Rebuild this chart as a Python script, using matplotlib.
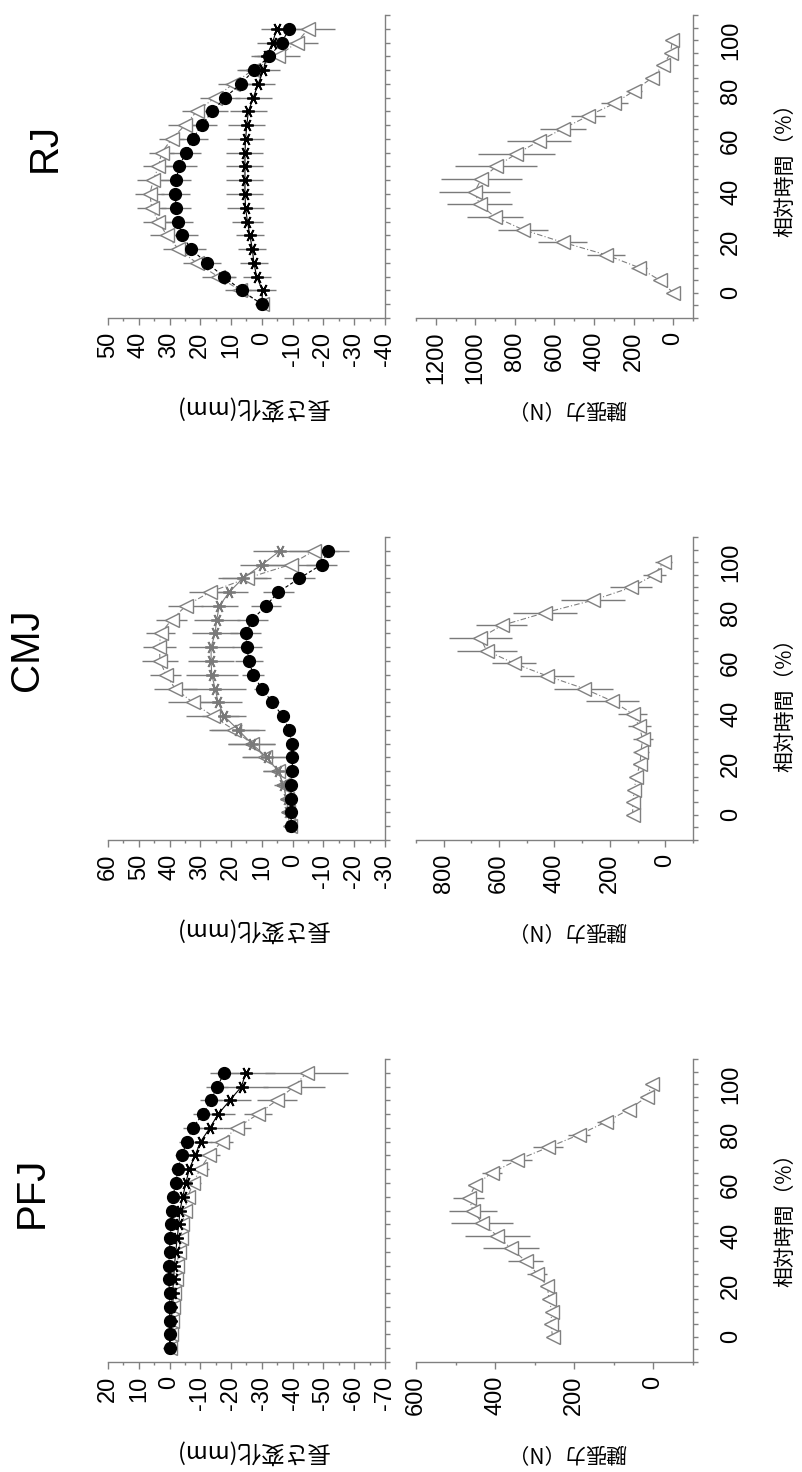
import numpy as np
import matplotlib
matplotlib.use("Agg")
import matplotlib.pyplot as plt
from matplotlib.ticker import MultipleLocator, NullFormatter

plt.rcParams["font.family"] = ["Liberation Sans", "Noto Sans CJK JP", "DejaVu Sans"]
plt.rcParams["axes.unicode_minus"] = False

# relative time of the movement (%)
time_pct = np.arange(0, 101, 5)

# ---------------- PFJ ----------------
pfj_circle = [0, 0, 0, 0, 0, 0.3, 0.3, 0, -0.2, -0.5, -0.7, -1.0, -2.1, -2.6, -4.0,
              -5.6, -7.5, -10.8, -13.5, -15.5, -17.8]
pfj_circle_sd = [0.4, 0.4, 0.4, 0.5, 0.5, 0.6, 0.7, 0.8, 1.0, 1.1, 1.3, 1.5, 1.8, 2.0,
                 2.3, 2.6, 3.0, 3.2, 3.5, 3.5, 4.7]
pfj_star = [-0.2, -0.3, -0.4, -0.6, -1.0, -1.3, -1.6, -2.0, -2.5, -3.0, -3.4, -4.3, -5.3,
            -6.4, -8.3, -10.1, -13.1, -15.8, -19.6, -23.4, -24.7]
pfj_star_sd = [0.3, 0.3, 0.4, 0.5, 0.6, 0.7, 0.8, 0.9, 1.0, 1.2, 1.4, 1.6, 2.0, 2.4, 3.0,
               3.6, 4.4, 5.5, 7.0, 8.5, 9.5]
pfj_tri = [-0.2, -0.4, -0.7, -1.0, -1.5, -2.0, -2.4, -3.0, -3.6, -4.2, -5.0, -5.9, -7.7,
           -9.9, -12.9, -16.9, -21.8, -28.8, -34.8, -40.5, -44.5]
pfj_tri_sd = [0.3, 0.4, 0.5, 0.6, 0.7, 0.8, 0.9, 1.1, 1.3, 1.5, 1.8, 2.2, 2.4, 3.0, 3.4,
              3.8, 4.5, 4.5, 6.5, 10.0, 13.5]
pfj_force = [255, 259, 257, 264, 268, 294, 323, 360, 395, 433, 456, 467, 450, 408, 344,
             266, 188, 121, 62, 17, 3]
pfj_force_sd = [10, 10, 10, 12, 15, 25, 44, 70, 82, 79, 61, 40, 18, 25, 38, 38, 28, 22,
                15, 10, 8]

# ---------------- CMJ ----------------
cmj_circle = [0.5, 0.5, 0.5, 0.5, 0.1, 0.1, 0.3, 1.1, 3.3, 6.6, 10.1, 12.8, 14.2, 14.9,
              15.2, 13.1, 8.7, 4.7, -2.2, -9.4, -11.4]
cmj_circle_sd = [0.8, 0.8, 0.8, 0.8, 0.8, 0.8, 0.8, 1.0, 1.5, 2.0, 2.5, 3.5, 4.5, 4.8,
                 5.0, 5.0, 5.0, 5.0, 5.0, 5.0, 7.0]
cmj_star = [1.0, 1.5, 2.0, 3.0, 4.7, 8.4, 13.3, 17.7, 22.3, 24.2, 25.2, 26.3, 26.5, 26.5,
            25.2, 24.7, 23.8, 20.6, 16.2, 9.9, 4.1]
cmj_star_sd = [0.5, 1.0, 2.0, 3.0, 4.9, 7.6, 7.6, 8.7, 7.0, 7.6, 10.0, 8.5, 7.6, 7.3, 7.5,
               7.5, 6.0, 6.0, 7.9, 7.3, 8.7]
cmj_tri = [1.0, 1.5, 2.0, 3.0, 4.7, 9.0, 13.3, 19.1, 26.0, 32.5, 38.2, 41.2, 43.1, 43.3,
           42.9, 39.3, 34.7, 26.9, 14.9, 0.7, -6.9]
cmj_tri_sd = [0.5, 0.8, 1.0, 2.0, 5.0, 7.4, 7.6, 8.0, 8.7, 8.0, 7.0, 5.0, 6.0, 5.4, 4.6,
              5.0, 5.7, 6.7, 8.0, 10.0, 8.0]
cmj_force = [118, 117, 112, 105, 91, 88, 82, 94, 118, 191, 294, 427, 547, 645, 668, 590,
             435, 260, 124, 40, 6]
cmj_force_sd = [15, 15, 15, 15, 25, 30, 36, 41, 52, 95, 106, 97, 80, 108, 113, 92, 116,
                115, 77, 42, 30]

# ---------------- RJ ----------------
rj_circle = [0, 6.6, 12.3, 17.9, 23.1, 25.8, 27.4, 27.9, 28.1, 27.9, 26.9, 24.7, 22.5,
             19.6, 16.1, 12.0, 6.9, 2.5, -2.4, -6.4, -8.9]
rj_circle_sd = [1.0, 3.0, 4.0, 4.5, 5.0, 5.0, 5.0, 5.0, 4.8, 5.0, 5.7, 5.0, 5.0, 5.0, 5.0,
                5.0, 5.0, 5.0, 5.0, 5.0, 5.0]
rj_star = [0, -0.2, 1.7, 2.6, 3.1, 3.9, 4.7, 5.3, 5.5, 5.5, 5.5, 5.5, 5.3, 4.9, 4.4, 2.8,
           1.2, -0.5, -1.5, -3.5, -4.8]
rj_star_sd = [1.0, 4.5, 4.5, 4.5, 4.5, 4.5, 5.0, 6.0, 6.0, 6.0, 6.0, 6.0, 6.0, 6.0, 6.0,
              6.0, 5.5, 5.5, 5.0, 5.0, 5.2]
rj_tri = [0, 7.0, 14.2, 21.2, 27.1, 30.9, 33.6, 35.8, 36.4, 35.3, 33.6, 32.6, 29.3, 25.0,
          21.2, 15.2, 9.3, 3.0, -5.3, -11.3, -15.1]
rj_tri_sd = [1.0, 5.0, 5.4, 4.3, 5.0, 5.6, 4.9, 4.7, 4.7, 5.2, 4.9, 4.0, 4.0, 5.4, 4.6,
             5.0, 5.0, 5.0, 7.0, 7.0, 8.7]
rj_force = [0, 69, 174, 339, 559, 760, 900, 979, 1004, 970, 895, 793, 680, 557, 430, 297,
            197, 109, 52, 13, 5]
rj_force_sd = [15, 30, 40, 95, 122, 128, 140, 162, 180, 205, 209, 196, 162, 118, 85, 68,
               40, 30, 25, 20, 15]

jump_names = ["RJ", "CMJ", "PFJ"]
length_limits = [(50, -40), (60, -30), (20, -70)]
force_limits = [(1300, -100), (900, -100), (600, -100)]

length_label = "長さ変化(mm)"
force_label = "腱張力（N）"
time_label = "相対時間（%）"

GREY = "#808080"
ERR = "#7a7a7a"
CJK = ["Noto Sans CJK JP", "DejaVu Sans"]

W, H = 803, 1472
fig = plt.figure(figsize=(W / 100, H / 100), dpi=100)
fig.patch.set_facecolor("white")


def rect(x0, y0, x1, y1):
    return [x0 / W, 1 - y1 / H, (x1 - x0) / W, (y1 - y0) / H]


def style(ax, vlim, vmajor, vminor, tlim, show_time_labels):
    ax.set_xlim(vlim)
    ax.set_ylim(tlim)
    ax.set_facecolor("none")
    for s in ("top", "left"):
        ax.spines[s].set_visible(False)
    for s in ("bottom", "right"):
        ax.spines[s].set_color(GREY)
        ax.spines[s].set_linewidth(1.0)
    ax.xaxis.set_major_locator(MultipleLocator(vmajor))
    ax.xaxis.set_minor_locator(MultipleLocator(vminor))
    ax.yaxis.set_major_locator(MultipleLocator(20))
    ax.yaxis.set_minor_locator(MultipleLocator(5))
    ax.tick_params(axis="x", which="major", direction="out", length=5, width=1.0,
                   color=GREY, labelsize=17, labelrotation=90, pad=5)
    ax.tick_params(axis="x", which="minor", direction="out", length=2.5, width=1.0,
                   color=GREY)
    ax.tick_params(axis="y", which="both", direction="out", length=3.5, width=1.0,
                   color=GREY, left=False, right=True, labelleft=False,
                   labelright=show_time_labels, labelsize=17, labelrotation=90, pad=16)
    if not show_time_labels:
        ax.yaxis.set_major_formatter(NullFormatter())
    for lab in ax.get_yticklabels():
        lab.set_va("center")


def draw_length(ax, circle, circle_sd, star, star_sd, tri, tri_sd, star_color):
    for vals, sd in ((tri, tri_sd), (star, star_sd), (circle, circle_sd)):
        ax.errorbar(vals, time_pct, xerr=sd, fmt="none", ecolor=ERR, elinewidth=1.0,
                    capsize=0, zorder=1)
    ax.plot(tri, time_pct, color=GREY, ls=(0, (5, 2, 1, 2)), lw=0.8, marker="<",
            ms=10, mfc="white", mec=GREY, mew=1.0, zorder=3)
    ax.plot(star, time_pct, color=star_color, ls="-", lw=0.8, marker=(6, 2, 90),
            ms=9, mec=star_color, mew=1.3, zorder=4)
    ax.plot(circle, time_pct, color="black", ls=(0, (3, 2)), lw=0.8, marker="o",
            ms=8.5, mfc="black", mec="black", zorder=5)


def draw_force(ax, force, force_sd):
    ax.errorbar(force, time_pct, xerr=force_sd, fmt="none", ecolor=ERR, elinewidth=1.0,
                capsize=0, zorder=1)
    ax.plot(force, time_pct, color=GREY, ls=(0, (5, 2, 1, 2)), lw=0.8, marker="<",
            ms=10, mfc="white", mec=GREY, mew=1.0, zorder=3)


length_sets = [
    (rj_circle, rj_circle_sd, rj_star, rj_star_sd, rj_tri, rj_tri_sd, "black"),
    (cmj_circle, cmj_circle_sd, cmj_star, cmj_star_sd, cmj_tri, cmj_tri_sd, "#7a7a7a"),
    (pfj_circle, pfj_circle_sd, pfj_star, pfj_star_sd, pfj_tri, pfj_tri_sd, "black"),
]
force_sets = [(rj_force, rj_force_sd), (cmj_force, cmj_force_sd), (pfj_force, pfj_force_sd)]

panel_tops = [15, 537, 1059]
panel_h = 303
title_pos = [(45, 147), (27, 650), (32, 1192)]
time_label_y = [165, 700, 1215]

for i, name in enumerate(jump_names):
    top = panel_tops[i]
    bottom = top + panel_h

    ax_len = fig.add_axes(rect(108, top, 385, bottom))
    draw_length(ax_len, *length_sets[i])
    style(ax_len, length_limits[i], 10, 5, (-5, 105), False)

    ax_f = fig.add_axes(rect(416, top, 693, bottom))
    draw_force(ax_f, *force_sets[i])
    style(ax_f, force_limits[i], 200, 100, (-10, 110), True)

    tx, ty = title_pos[i]
    fig.text(tx / W, 1 - ty / H, name, rotation=90, ha="center", va="center",
             fontsize=29, family=["Liberation Sans", "DejaVu Sans"])
    fig.text(252 / W, 1 - (bottom + 90) / H, length_label, rotation=180,
             ha="center", va="center", fontsize=17, family=CJK)
    fig.text(567 / W, 1 - (bottom + 90) / H, force_label, rotation=180,
             ha="center", va="center", fontsize=15, family=CJK)
    fig.text(785 / W, 1 - time_label_y[i] / H, time_label, rotation=90,
             ha="center", va="center", fontsize=15, family=CJK)

fig.savefig("out.png", dpi=100, facecolor="white")
